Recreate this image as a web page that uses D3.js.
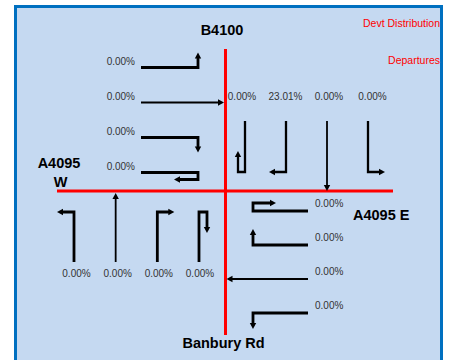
<!DOCTYPE html>
<html><head><meta charset="utf-8">
<script src="https://cdn.jsdelivr.net/npm/d3@7"></script>
<style>body{margin:0;background:#fff}svg{display:block}</style>
</head><body>
<svg id="c" width="452" height="360"></svg>
<script>
// ---- data ----
const roadNorth = "B4100";
const roadWest = ["A4095", "W"];
const roadEast = "A4095 E";
const roadSouth = "Banbury Rd";
const legendLines = ["Devt Distribution", "Departures"];

const westMoves = ["left", "through", "right", "uturn"];
const westValues = [0, 0, 0, 0];
const northMoves = ["uturn", "right", "through", "left"];
const northValues = [0, 23.01, 0, 0];
const eastMoves = ["uturn", "right", "through", "left"];
const eastValues = [0, 0, 0, 0];
const southMoves = ["left", "through", "right", "uturn"];
const southValues = [0, 0, 0, 0];

// ---- drawing ----
const svg = d3.select("#c");
const fmt = v => d3.format(".2f")(v) + "%";
const idx = d3.range(4);

svg.append("rect").attr("x", 15.5).attr("y", 6.5).attr("width", 426).attr("height", 400)
  .attr("fill", "#c5d9f1").attr("stroke", "#0070c0").attr("stroke-width", 3);

// road centre lines
const xRoad = 225.5, yRoad = 191;
svg.append("line").attr("x1", xRoad).attr("x2", xRoad).attr("y1", 49).attr("y2", 335)
  .attr("stroke", "#ff0000").attr("stroke-width", 3);
svg.append("line").attr("x1", 57).attr("x2", 393).attr("y1", yRoad).attr("y2", yRoad)
  .attr("stroke", "#ff0000").attr("stroke-width", 3);

// scales for lanes
const yW = d3.scalePoint().domain(idx).range([67.5, 172.5]);
const xN = d3.scalePoint().domain(idx).range([245, 368]);
const xNL = d3.scalePoint().domain(idx).range([242, 372.5]);
const yE = d3.scalePoint().domain(idx).range([211, 313]);
const xS = d3.scalePoint().domain(idx).range([74, 199]);
const xSL = d3.scalePoint().domain(idx).range([76.5, 200]);

const arrows = svg.append("g");
const HEAD = 6, HW = 3.2;

function drawArrow(tail, d, r, move, geo) {
  const add = (p, v, k) => [p[0] + v[0] * k, p[1] + v[1] * k];
  let pts;
  if (move === "through") {
    pts = [tail, add(tail, d, geo.Lth)];
  } else {
    const P = add(tail, d, geo.L);
    if (move === "left") pts = [tail, P, add(P, r, -geo.T)];
    else if (move === "right") pts = [tail, P, add(P, r, geo.T)];
    else { const Q = add(P, r, geo.W); pts = [tail, P, Q, add(Q, d, -geo.B)]; }
  }
  const n = pts.length;
  const a = pts[n - 2], b = pts[n - 1];
  const len = Math.hypot(b[0] - a[0], b[1] - a[1]);
  const u = [(b[0] - a[0]) / len, (b[1] - a[1]) / len];
  const base = add(b, u, -HEAD);
  const linePts = pts.slice(0, n - 1).concat([add(b, u, -HEAD + 1)]);
  arrows.append("path")
    .attr("d", d3.line()(linePts))
    .attr("fill", "none").attr("stroke", "#000")
    .attr("stroke-width", move === "through" ? 1.8 : geo.sw)
    .attr("stroke-linejoin", "miter");
  const perp = [-u[1], u[0]];
  arrows.append("path")
    .attr("d", d3.line()([b, add(base, perp, HW), add(base, perp, -HW)]) + "Z")
    .attr("fill", "#000");
}

// West approach (eastbound)
westMoves.forEach((m, i) => drawArrow([141, yW(i)], [1, 0], [0, 1], m,
  {L: 57, T: 15, W: 7, B: 24, Lth: xRoad - 1.5 - 141, sw: 2.8}));
// North approach (southbound)
northMoves.forEach((m, i) => drawArrow([xN(i), 121], [0, 1], [-1, 0], m,
  {L: 51, T: 17, W: 7, B: 21, Lth: yRoad - 121, sw: 2.3}));
// East approach (westbound)
eastMoves.forEach((m, i) => drawArrow([308, yE(i)], [-1, 0], [0, -1], m,
  {L: 55, T: 16, W: 8, B: 23, Lth: 308 - xRoad - 1, sw: 2.8}));
// South approach (northbound)
southMoves.forEach((m, i) => drawArrow([xS(i), 262], [0, -1], [1, 0], m,
  {L: 50, T: 17, W: 8, B: 21, Lth: 262 - yRoad - 2, sw: 2.8}));

// percentage labels
const pct = svg.append("g").attr("font-family", "Liberation Sans, Arial, sans-serif")
  .attr("font-size", 10).attr("fill", "#333");
westValues.forEach((v, i) => pct.append("text").attr("x", 135).attr("y", yW(i) - 2.5)
  .attr("text-anchor", "end").text(fmt(v)));
northValues.forEach((v, i) => pct.append("text").attr("x", xNL(i)).attr("y", 99.5)
  .attr("text-anchor", "middle").text(fmt(v)));
eastValues.forEach((v, i) => pct.append("text").attr("x", 315).attr("y", yE(i) - 4)
  .attr("text-anchor", "start").text(fmt(v)));
southValues.forEach((v, i) => pct.append("text").attr("x", xSL(i)).attr("y", 277)
  .attr("text-anchor", "middle").text(fmt(v)));

// road names
const rn = svg.append("g").attr("font-family", "Liberation Sans, Arial, sans-serif")
  .attr("font-size", 14.5).attr("font-weight", "bold").attr("fill", "#000");
rn.append("text").attr("x", 222).attr("y", 35).attr("text-anchor", "middle").text(roadNorth);
rn.append("text").attr("x", 59).attr("y", 168).attr("text-anchor", "middle").text(roadWest[0]);
rn.append("text").attr("x", 60.5).attr("y", 187).attr("text-anchor", "middle").text(roadWest[1]);
rn.append("text").attr("x", 353).attr("y", 220).attr("text-anchor", "start").text(roadEast);
rn.append("text").attr("x", 223.5).attr("y", 348).attr("text-anchor", "middle").text(roadSouth);

// legend
const lg = svg.append("g").attr("font-family", "Liberation Sans, Arial, sans-serif")
  .attr("font-size", 10.5).attr("fill", "#ff0000").attr("text-anchor", "end");
lg.append("text").attr("x", 440).attr("y", 27).text(legendLines[0]);
lg.append("text").attr("x", 440).attr("y", 64).text(legendLines[1]);
</script>
</body></html>
